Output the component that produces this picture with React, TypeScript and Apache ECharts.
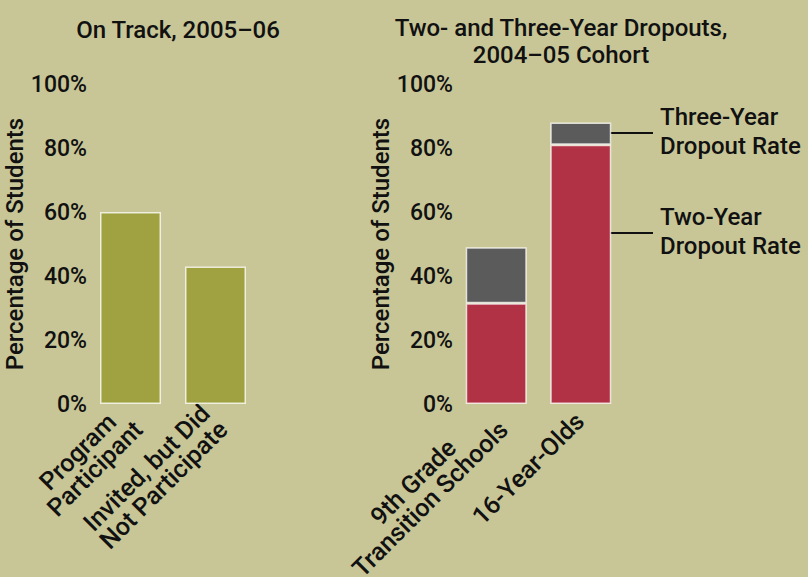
import React, { useEffect, useRef } from "react";
import * as echarts from "echarts";

const onTrackCategories = ["Program\nParticipant", "Invited, but Did\nNot Participate"];
const onTrackValues = [60, 43];

const dropoutCategories = ["9th Grade\nTransition Schools", "16-Year-Olds"];
const twoYearValues = [31.5, 81];
const threeYearExtra = [17.5, 7];

const yTicks = [0, 20, 40, 60, 80, 100];

const FONT = "Roboto, 'Noto Sans', sans-serif";
const BG = "#c8c697";
const OLIVE = "#a0a241";
const RED = "#b23245";
const GRAY = "#5b5b5b";
const TEXT = "#111111";

const LABEL_SIZE = 25;

function measure(text: string, size: number): number {
  const c = document.createElement("canvas");
  const ctx = c.getContext("2d");
  if (!ctx) return text.length * size * 0.5;
  ctx.font = `500 ${size}px Roboto`;
  return ctx.measureText(text).width;
}

function catAxis(cats: string[], gridIndex: number) {
  const rich: Record<string, any> = {};
  cats.forEach((c, i) => {
    const w = Math.max(...c.split("\n").map((l) => measure(l, LABEL_SIZE)));
    rich["c" + i] = {
      width: Math.ceil(w) + 2,
      align: "center",
      fontSize: LABEL_SIZE,
      fontWeight: 500,
      fontFamily: FONT,
      color: TEXT,
      lineHeight: 24,
    };
  });
  return {
    type: "category",
    gridIndex,
    data: cats,
    axisLine: { show: false },
    axisTick: { show: false },
    axisLabel: {
      interval: 0,
      rotate: 45,
      margin: 12,
      formatter: (v: string, idx: number) =>
        v
          .split("\n")
          .map((l) => `{c${idx}|${l}}`)
          .join("\n"),
      rich,
    },
  };
}

function valAxis(gridIndex: number) {
  return {
    type: "value",
    gridIndex,
    min: yTicks[0],
    max: yTicks[yTicks.length - 1],
    interval: yTicks[1] - yTicks[0],
    name: "Percentage of Students",
    nameLocation: "middle",
    nameGap: 47,
    nameRotate: 90,
    nameTextStyle: { fontSize: 24, fontWeight: 500, fontFamily: FONT, color: TEXT },
    axisLine: { show: false },
    axisTick: { show: false },
    splitLine: { show: false },
    axisLabel: {
      margin: 1,
      fontSize: 23,
      fontWeight: 500,
      fontFamily: FONT,
      color: TEXT,
      formatter: "{value}%",
    },
  };
}

const barBorder = { borderColor: "rgba(255,255,255,0.75)", borderWidth: 1.5 };

export default function App() {
  const ref = useRef<HTMLDivElement>(null);
  useEffect(() => {
    if (!ref.current) return;
    const chart = echarts.init(ref.current, null, { renderer: "svg" });
    const titleStyle = { fontSize: 24, fontWeight: 500, fontFamily: FONT, color: TEXT, lineHeight: 27 };
    const annStyle = {
      fontSize: 24,
      fontWeight: 500,
      fontFamily: FONT,
      fill: TEXT,
      lineHeight: 29,
      verticalAlign: "top",
    };
    chart.setOption({
      animation: false,
      backgroundColor: BG,
      title: [
        { text: "On Track, 2005–06", left: 173, top: 11, textAlign: "center", textStyle: titleStyle },
        {
          text: "Two- and Three-Year Dropouts,\n2004–05 Cohort",
          left: 556,
          top: 9,
          textAlign: "center",
          textStyle: titleStyle,
        },
      ],
      grid: [
        { left: 88, top: 84, width: 170, height: 320, outerBoundsMode: "none", containLabel: false },
        { left: 454, top: 84, width: 169, height: 320, outerBoundsMode: "none", containLabel: false },
      ],
      xAxis: [catAxis(onTrackCategories, 0), catAxis(dropoutCategories, 1)],
      yAxis: [valAxis(0), valAxis(1)],
      series: [
        {
          name: "On Track",
          type: "bar",
          xAxisIndex: 0,
          yAxisIndex: 0,
          barWidth: 61,
          data: onTrackValues,
          itemStyle: { color: OLIVE, ...barBorder },
        },
        {
          name: "Two-Year Dropout Rate",
          type: "bar",
          xAxisIndex: 1,
          yAxisIndex: 1,
          stack: "drop",
          barWidth: 61,
          data: twoYearValues,
          itemStyle: { color: RED, ...barBorder },
        },
        {
          name: "Three-Year Dropout Rate",
          type: "bar",
          xAxisIndex: 1,
          yAxisIndex: 1,
          stack: "drop",
          barWidth: 61,
          data: threeYearExtra,
          itemStyle: { color: GRAY, ...barBorder },
        },
      ],
      graphic: [
        { type: "line", shape: { x1: 588, y1: 133, x2: 653, y2: 133 }, style: { stroke: "#111", lineWidth: 2 } },
        { type: "line", shape: { x1: 598, y1: 233, x2: 653, y2: 233 }, style: { stroke: "#111", lineWidth: 2 } },
        { type: "text", x: 660, y: 102, style: { text: "Three-Year\nDropout Rate", ...annStyle } },
        { type: "text", x: 660, y: 202, style: { text: "Two-Year\nDropout Rate", ...annStyle } },
      ],
    });
    return () => chart.dispose();
  }, []);
  return <div ref={ref} style={{ position: "fixed", left: 0, top: 0, width: 808, height: 577 }} />;
}
